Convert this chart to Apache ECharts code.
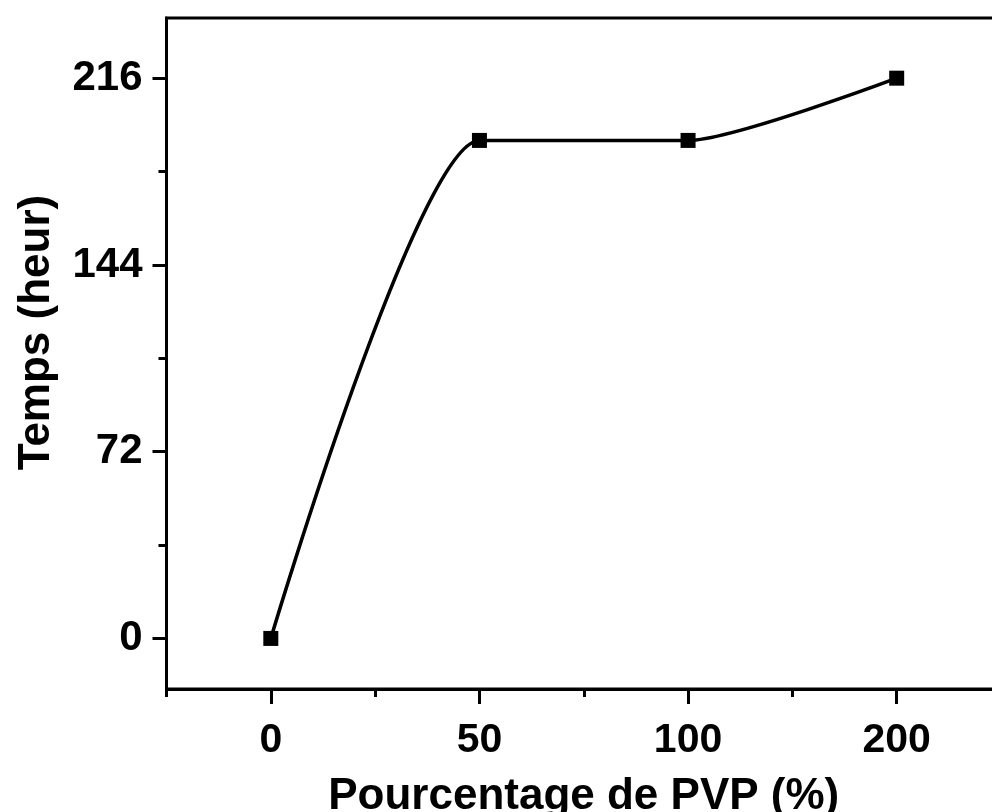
<!DOCTYPE html>
<html>
<head>
<meta charset="utf-8">
<script src="https://cdn.jsdelivr.net/npm/echarts@6/dist/echarts.min.js"></script>
<style>
  html, body { margin: 0; padding: 0; background: #fff; }
  #chart { width: 992px; height: 812px; }
</style>
</head>
<body>
<div id="chart"></div>
<script>
// ---- data ----
const categories = ['0', '50', '100', '200'];
const timeValues = [0, 192, 192, 216];
const yMajorTicks = [0, 72, 144, 216];
const yMinorTicks = [36, 108, 180];
const xTitle = 'Pourcentage de PVP (%)';
const yTitle = 'Temps (heur)';

const FONT = '"Liberation Sans", Arial, sans-serif';
const chart = echarts.init(document.getElementById('chart'), null, { renderer: 'canvas' });

const option = {
  animation: false,
  backgroundColor: '#fff',
  grid: {
    left: 166.5, top: 18, width: 834.5, height: 671,
    outerBoundsMode: 'none',
    show: true, borderColor: '#000', borderWidth: 3, backgroundColor: 'transparent',
    containLabel: false
  },
  xAxis: [
    {
      type: 'category',
      data: categories,
      boundaryGap: true,
      name: xTitle,
      nameLocation: 'middle',
      nameGap: 86,
      nameTextStyle: { fontFamily: FONT, fontWeight: 'bold', fontSize: 44, color: '#000' },
      axisLine: { show: true, onZero: false, lineStyle: { color: '#000', width: 3 } },
      axisTick: { show: true, alignWithLabel: true, interval: 0, length: 15, lineStyle: { color: '#000', width: 3 } },
      axisLabel: { show: true, interval: 0, margin: 31, fontFamily: FONT, fontWeight: 'bold', fontSize: 41, color: '#000' },
      splitLine: { show: false }
    },
    {
      type: 'category',
      data: categories,
      boundaryGap: true,
      position: 'bottom',
      axisLine: { show: false, onZero: false },
      axisTick: { show: true, alignWithLabel: false, interval: 0, length: 8, lineStyle: { color: '#000', width: 3 } },
      axisLabel: { show: false },
      splitLine: { show: false }
    }
  ],
  yAxis: [
    {
      type: 'value',
      min: -19.5,
      max: 239.2,
      position: 'left',
      name: yTitle,
      nameLocation: 'middle',
      nameRotate: 90,
      nameGap: 108,
      nameTextStyle: { fontFamily: FONT, fontWeight: 'bold', fontSize: 44, color: '#000', padding: [0, 0, 0, 42] },
      axisLine: { show: true, onZero: false, lineStyle: { color: '#000', width: 3 } },
      axisTick: { show: true, customValues: yMajorTicks, length: 14, lineStyle: { color: '#000', width: 3 } },
      axisLabel: { show: true, customValues: yMajorTicks, margin: 24, fontFamily: FONT, fontWeight: 'bold', fontSize: 42, color: '#000' },
      splitLine: { show: false }
    },
    {
      type: 'value',
      min: -19.5,
      max: 239.2,
      position: 'left',
      axisLine: { show: false, onZero: false },
      axisTick: { show: true, customValues: yMinorTicks, length: 8, lineStyle: { color: '#000', width: 3 } },
      axisLabel: { show: false },
      splitLine: { show: false }
    }
  ],
  series: [
    {
      type: 'line',
      xAxisIndex: 0,
      yAxisIndex: 0,
      data: timeValues,
      smooth: 0.2,
      symbol: 'rect',
      symbolSize: 15,
      itemStyle: { color: '#000' },
      lineStyle: { color: '#000', width: 3.5 }
    }
  ]
};
chart.setOption(option);
</script>
</body>
</html>
